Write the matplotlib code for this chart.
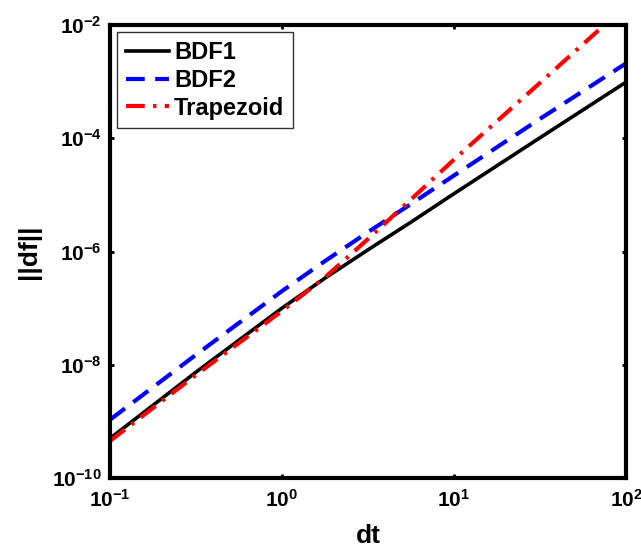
import matplotlib
matplotlib.use("Agg")
import matplotlib.pyplot as plt
from matplotlib.ticker import FixedLocator, NullLocator, LogFormatterSciNotation

plt.rcParams['font.family'] = ['Liberation Sans', 'DejaVu Sans']
plt.rcParams['font.weight'] = 'bold'
plt.rcParams['mathtext.fontset'] = 'custom'
plt.rcParams['mathtext.rm'] = 'Liberation Sans:bold'
plt.rcParams['mathtext.it'] = 'Liberation Sans:bold'
plt.rcParams['mathtext.bf'] = 'Liberation Sans:bold'

dt = [0.1, 0.316, 1.0, 1.78, 3.16, 5.62, 10.0, 31.6, 100.0]
bdf1 = [5.0e-10, 7.4e-9, 1.0e-7, 3.4e-7, 1.07e-6, 3.3e-6, 1.05e-5, 1.02e-4, 9.8e-4]
bdf2 = [1.07e-9, 1.5e-8, 2.0e-7, 6.8e-7, 2.2e-6, 6.9e-6, 2.2e-5, 2.2e-4, 2.1e-3]
trap = [4.5e-10, 6.6e-9, 8.9e-8, 3.5e-7, 1.66e-6, 8.3e-6, 4.2e-5, 9.5e-4, 2.2e-2]
labels = ['BDF1', 'BDF2', 'Trapezoid']
xticks = [1e-1, 1e0, 1e1, 1e2]
yticks = [1e-10, 1e-8, 1e-6, 1e-4, 1e-2]

fig = plt.figure(figsize=(6.41, 5.48), dpi=100)
ax = fig.add_axes([110/641, 70/548, 516/641, 453/548])

ax.loglog(dt, bdf1, color='black', lw=2.6, ls='-', label=labels[0])
ax.loglog(dt, bdf2, color='blue', lw=3.0, ls=(0, (4.5, 2.5)), label=labels[1])
ax.loglog(dt, trap, color='red', lw=3.0, ls=(0, (4.5, 2.0, 0.8, 2.0)), label=labels[2])

ax.set_xlim(1e-1, 1e2)
ax.set_ylim(1e-10, 1e-2)
ax.xaxis.set_major_locator(FixedLocator(xticks))
ax.yaxis.set_major_locator(FixedLocator(yticks))
ax.xaxis.set_minor_locator(NullLocator())
ax.yaxis.set_minor_locator(NullLocator())
ax.xaxis.set_major_formatter(LogFormatterSciNotation())
ax.yaxis.set_major_formatter(LogFormatterSciNotation())
ax.tick_params(which='both', direction='in', length=3, width=2, top=True, right=True,
               labelsize=15)
ax.tick_params(axis='x', pad=8)
ax.tick_params(axis='y', pad=6)
for s in ax.spines.values():
    s.set_linewidth(3)

ax.set_xlabel('dt', fontsize=19, fontweight='bold')
ax.set_ylabel('||df||', fontsize=19, fontweight='bold')
ax.xaxis.set_label_coords(0.5, (478 - 524) / 453)
ax.xaxis.label.set_va('top')
ax.yaxis.set_label_coords((29 - 110) / 516, 0.5)
ax.yaxis.label.set_va('center')

leg = ax.legend(loc='upper left', fontsize=17, frameon=True, fancybox=False,
                borderaxespad=0.3, handlelength=1.82, handletextpad=0.22,
                borderpad=0.38, labelspacing=0.2)
leg.get_frame().set_edgecolor('black')
leg.get_frame().set_linewidth(1.0)
for t in leg.get_texts():
    t.set_fontweight('bold')

fig.savefig('out.png', dpi=100)
